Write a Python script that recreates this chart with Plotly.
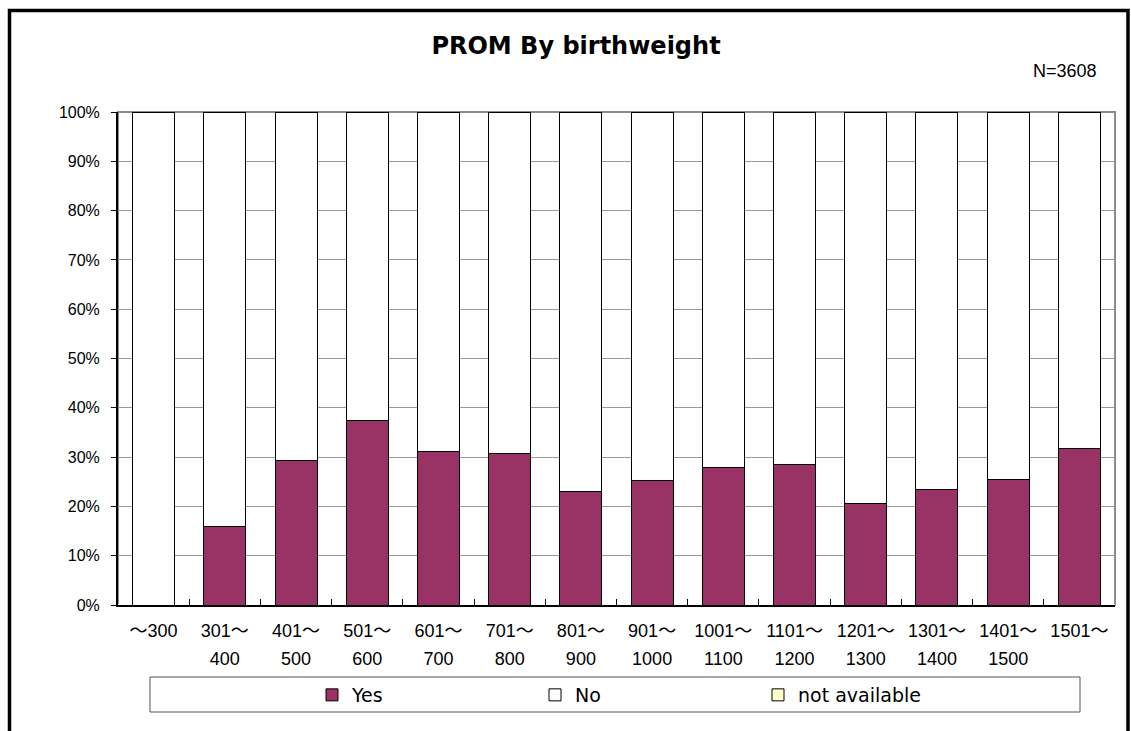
import plotly.graph_objects as go

categories = ["～300", "301～<br>400", "401～<br>500", "501～<br>600", "601～<br>700",
              "701～<br>800", "801～<br>900", "901～<br>1000", "1001～<br>1100",
              "1101～<br>1200", "1201～<br>1300", "1301～<br>1400", "1401～<br>1500", "1501～"]
yes_pct = [0.0, 15.9, 29.4, 37.4, 31.1, 30.8, 23.0, 25.3, 27.9, 28.4, 20.6, 23.4, 25.4, 31.7]
na_pct = [0.0] * 14
no_pct = [100.0 - y - n for y, n in zip(yes_pct, na_pct)]
y_ticks = list(range(0, 101, 10))
y_tick_labels = [f"{v}%" for v in y_ticks]

FONT = "Liberation Sans, Noto Sans CJK JP, sans-serif"
WIDE = "DejaVu Sans, Noto Sans CJK JP, sans-serif"

# tick text: larger base font for line spacing, glyphs drawn at 18px
tick_text = ["<br>".join(f"<span style='font-size:18px'>{part}</span>" for part in c.split("<br>"))
             for c in categories]

fig = go.Figure()
fig.add_trace(go.Bar(x=categories, y=yes_pct, name="Yes",
                     marker=dict(color="#993366", line=dict(color="black", width=1))))
fig.add_trace(go.Bar(x=categories, y=no_pct, name="No",
                     marker=dict(color="white", line=dict(color="black", width=1))))
fig.add_trace(go.Bar(x=categories, y=na_pct, name="not available",
                     marker=dict(color="#FFFFCC", line=dict(color="black", width=1))))

L, R, T, B = 118, 16, 112, 126
W, H = 1131, 731
pw, ph = W - L - R, H - T - B

def px_x(px):
    return (px - L) / pw

def px_y(py):
    return (H - B - py) / ph

fig.update_layout(
    barmode="stack",
    bargap=0.41,
    width=W, height=H,
    margin=dict(l=L, r=R, t=T, b=B, autoexpand=False),
    paper_bgcolor="white",
    plot_bgcolor="white",
    font=dict(family=FONT, size=16, color="black"),
    title=dict(text="<b>PROM By birthweight</b>", x=px_x(576), xref="paper", xanchor="center",
               y=1 - 46 / H, yanchor="middle",
               font=dict(family=WIDE, size=24)),
    showlegend=True,
    legend=dict(orientation="h", x=px_x(312), xanchor="left", y=px_y(695), yanchor="middle",
                traceorder="normal", entrywidth=178, entrywidthmode="pixels",
                itemwidth=30, bgcolor="rgba(0,0,0,0)",
                font=dict(size=19, family=WIDE)),
    xaxis=dict(showline=True, linecolor="black", linewidth=2,
               tickmode="array", tickvals=categories, ticktext=tick_text,
               ticks="inside", tickson="boundaries", ticklen=6, tickcolor="black",
               showgrid=False, tickfont=dict(size=21.5, family=FONT),
               ticklabelstandoff=4),
    yaxis=dict(range=[0, 100], tickvals=y_ticks, ticktext=y_tick_labels,
               showline=True, linecolor="black", linewidth=2,
               ticks="outside", ticklen=5, tickcolor="black",
               showgrid=True, gridcolor="#9a9a9a", gridwidth=1,
               tickfont=dict(size=16, family=FONT), ticklabelstandoff=8),
    shapes=[
        # plot area frame (gray top/right)
        dict(type="rect", xref="paper", yref="paper", x0=0, x1=1, y0=0, y1=1,
             line=dict(color="#8c8c8c", width=2), layer="below"),
        # outer chart border (left, top, right)
        dict(type="path", xref="paper", yref="paper",
             path=f"M {px_x(9.5)} {px_y(760)} L {px_x(9.5)} {px_y(10.5)} L {px_x(1128)} {px_y(10.5)} L {px_x(1128)} {px_y(760)}",
             line=dict(color="black", width=3.5)),
        # legend box
        dict(type="rect", xref="paper", yref="paper",
             x0=px_x(150), x1=px_x(1080), y0=px_y(712), y1=px_y(677),
             line=dict(color="#555555", width=1)),
    ],
    annotations=[
        dict(text="N=3608", xref="paper", yref="paper", x=px_x(1065), y=px_y(71),
             xanchor="center", yanchor="middle", showarrow=False,
             font=dict(size=18, family=FONT)),
    ],
)

fig.write_html("out.html", config={"displayModeBar": False},
               post_script="document.body.style.margin='0';document.body.style.overflow='hidden';")
